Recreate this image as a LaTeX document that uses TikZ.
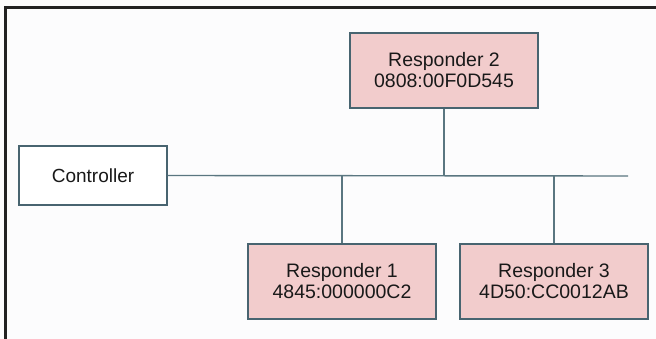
\documentclass[tikz,border=0pt]{standalone}
\usepackage{fontspec}
\setmainfont{Liberation Sans}
\definecolor{boxfill}{RGB}{242,204,204}
\definecolor{boxedge}{RGB}{72,100,112}
\definecolor{wire}{RGB}{90,118,128}
\definecolor{bg}{RGB}{252,252,253}
\definecolor{frame}{RGB}{34,34,34}
\definecolor{ink}{RGB}{25,25,25}
\begin{document}
\begin{tikzpicture}[x=1pt,y=-1pt,
  resp/.style={draw=boxedge,line width=1.3pt,fill=boxfill,minimum width=188pt,minimum height=75pt,
    inner sep=0pt,align=center,font=\fontsize{19.5}{21}\selectfont,text=ink},
  ctrlbox/.style={draw=boxedge,line width=1.3pt,fill=white,minimum width=148pt,minimum height=59pt,
    inner sep=0pt,font=\fontsize{19}{21}\selectfont,text=ink},
  wireline/.style={draw=wire,line width=1.4pt}]
\fill[bg] (0,0) rectangle (656,339);
\useasboundingbox (0,0) rectangle (656,339);
\draw[frame,line width=3pt] (5.5,339) -- (5.5,7.5) -- (656,7.5);
\node[resp] (r2) at (444,70.5) {Responder 2\\0808:00F0D545};
\node[resp] (r1) at (342,281.5) {Responder 1\\4845:000000C2};
\node[resp] (r3) at (554,281.5) {Responder 3\\4D50:CC0012AB};
\node[ctrlbox] (ctrl) at (93,175.5) {Controller};
\coordinate (busend) at (628,176);
\draw[wireline] (ctrl.east) -- (busend);
\draw[wireline] (r2.south) -- (r2.south |- busend);
\draw[wireline] (r1.north) -- (r1.north |- busend);
\draw[wireline] (r3.north) -- (r3.north |- busend);
\end{tikzpicture}
\end{document}
